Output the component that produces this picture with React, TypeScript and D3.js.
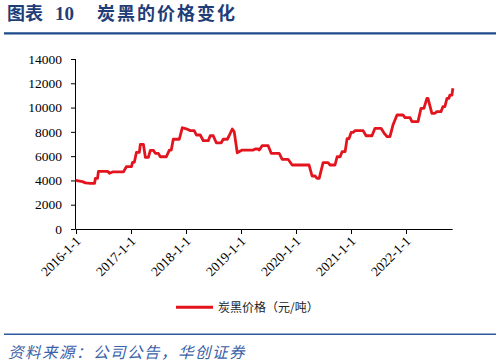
import React from "react";
import * as d3 from "d3";

const titleLabel = "图表";
const titleNumber = "10";
const titleText = "炭黑的价格变化";
const source = "资料来源：公司公告，华创证券";
const seriesName = "炭黑价格（元/吨）";

const dates: string[] = [
  "2016-01-01","2016-02-16","2016-03-07","2016-04-09","2016-05-06","2016-05-12","2016-05-26","2016-06-01",
  "2016-07-31","2016-08-13","2016-09-02","2016-11-14","2016-12-03","2017-01-06","2017-01-13","2017-01-25",
  "2017-02-08","2017-02-27","2017-03-06","2017-03-26","2017-04-08","2017-04-28","2017-05-11","2017-05-31",
  "2017-06-13","2017-07-03","2017-07-16","2017-08-25","2017-09-14","2017-09-27","2017-10-10","2017-11-19",
  "2017-12-09","2018-01-04","2018-01-31","2018-02-26","2018-03-12","2018-04-07","2018-04-27","2018-05-30",
  "2018-06-12","2018-07-02","2018-07-22","2018-08-24","2018-09-06","2018-10-03","2018-10-16","2018-11-05",
  "2018-11-18","2018-12-08","2019-01-10","2019-03-24","2019-04-06","2019-04-26","2019-05-03","2019-05-22",
  "2019-07-01","2019-07-21","2019-09-12","2019-10-02","2019-11-10","2019-12-07","2020-03-28","2020-04-17",
  "2020-05-07","2020-05-20","2020-06-03","2020-06-29","2020-08-01","2020-08-14","2020-09-16","2020-09-30",
  "2020-10-20","2020-11-02","2020-11-22","2020-12-05","2020-12-18","2021-01-01","2021-01-14","2021-01-27",
  "2021-03-21","2021-04-10","2021-05-19","2021-06-08","2021-07-18","2021-08-07","2021-08-27","2021-09-15",
  "2021-10-05","2021-11-01","2021-12-10","2021-12-24","2022-01-26","2022-02-08","2022-03-20","2022-04-09",
  "2022-04-28","2022-05-18","2022-05-25","2022-06-20","2022-07-10","2022-07-23","2022-08-19","2022-09-01",
  "2022-09-14","2022-09-28","2022-10-11","2022-10-17","2022-10-31","2022-11-06"
];

const prices: number[] = [
  4000,3900,3800,3750,3750,4170,4170,4750,
  4750,4590,4700,4700,5130,5130,5490,5490,
  6316,6316,6975,6975,5900,5900,6480,6480,
  6230,6230,5950,5950,6500,6500,7390,7390,
  8340,8250,8100,8100,7740,7740,7270,7270,
  7680,7680,7100,7100,7390,7390,7700,8235,
  8000,6280,6500,6500,6590,6590,6500,6860,
  6860,6230,6230,5740,5740,5270,5270,4365,
  4365,4175,4175,5460,5460,5270,5270,5950,
  5950,6370,6370,7440,7440,7960,7960,8100,
  8100,7680,7680,8290,8290,7900,7600,7600,
  8560,9390,9390,9170,9170,8840,8840,9940,
  9940,10760,10760,9530,9530,9660,9660,10070,
  10070,10760,10760,11030,11030,11590
];

const yTicks: number[] = [0, 2000, 4000, 6000, 8000, 10000, 12000, 14000];
const xTickLabels: string[] = ["2016-1-1","2017-1-1","2018-1-1","2019-1-1","2020-1-1","2021-1-1","2022-1-1"];

const W = 500, H = 364;

export default function App() {
  const parse = d3.timeParse("%Y-%m-%d");
  const data = dates.map((d, i) => ({ date: parse(d) as Date, value: prices[i] }));
  const x = d3.scaleTime()
    .domain([parse("2016-01-01") as Date, parse("2022-11-05") as Date])
    .range([75.5, 452.7]);
  const y = d3.scaleLinear().domain([0, 14000]).range([229, 59]);
  const line = d3.line<{ date: Date; value: number }>()
    .x(d => x(d.date))
    .y(d => y(d.value));
  const xTicks = xTickLabels.map(s => {
    const [yy, mm, dd] = s.split("-").map(Number);
    return { label: s, date: new Date(yy, mm - 1, dd) };
  });
  const axisFont = "'Liberation Serif', 'Times New Roman', serif";
  const cjk = "'Noto Sans CJK SC', sans-serif";
  const titleColor = "#1F3E78";
  return (
    <svg width={W} height={H} style={{ position: "absolute", left: 0, top: 0, background: "#fff" }}>
      <text x={7} y={20} fontFamily={cjk} fontWeight={700} fontSize={18} fill={titleColor} letterSpacing={0}>
        {titleLabel}
      </text>
      <text x={55} y={20} fontFamily={axisFont} fontWeight={700} fontSize={19} fill={titleColor}>
        {titleNumber}
      </text>
      <text x={97} y={20} fontFamily={cjk} fontWeight={700} fontSize={18} fill={titleColor} letterSpacing={2}>
        {titleText}
      </text>
      <line x1={4} x2={496} y1={33.3} y2={33.3} stroke="#1F4A8C" strokeWidth={2.2} />
      {/* y axis */}
      <line x1={75.5} x2={75.5} y1={y(14000)} y2={y(0)} stroke="#000" strokeWidth={1} />
      {yTicks.map(t => (
        <g key={t}>
          <line x1={71} x2={75.5} y1={y(t) + 0.5} y2={y(t) + 0.5} stroke="#000" />
          <text x={62} y={y(t)} dy="0.35em" textAnchor="end" fontFamily={axisFont} fontSize={13.5} fill="#000">
            {t}
          </text>
        </g>
      ))}
      {/* x axis */}
      <line x1={75.5} x2={452.7} y1={229.5} y2={229.5} stroke="#000" strokeWidth={1} />
      {xTicks.map(t => {
        const px = Math.round(x(t.date)) + 0.5;
        return (
          <g key={t.label}>
            <line x1={px} x2={px} y1={229.5} y2={234} stroke="#000" />
            <text
              transform={`translate(${px + 5},${242}) rotate(-45)`}
              textAnchor="end"
              fontFamily={axisFont}
              fontSize={13.5}
              fill="#000"
            >
              {t.label}
            </text>
          </g>
        );
      })}
      <path d={line(data) || ""} fill="none" stroke="#E3141E" strokeWidth={2.8} strokeLinejoin="round" />
      {/* legend */}
      <line x1={176} x2={213} y1={307.3} y2={307.3} stroke="#E3141E" strokeWidth={3} />
      <text x={218} y={307.3} dy="0.35em" fontFamily={cjk} fontSize={12} fill="#222">
        {seriesName}
      </text>
      <line x1={4} x2={496} y1={334.3} y2={334.3} stroke="#2F5A9E" strokeWidth={1.5} />
      <text x={8} y={358} fontFamily={cjk} fontSize={15.5} fontStyle="italic" fill="#3A62A8" letterSpacing={1.5}>
        {source}
      </text>
    </svg>
  );
}
